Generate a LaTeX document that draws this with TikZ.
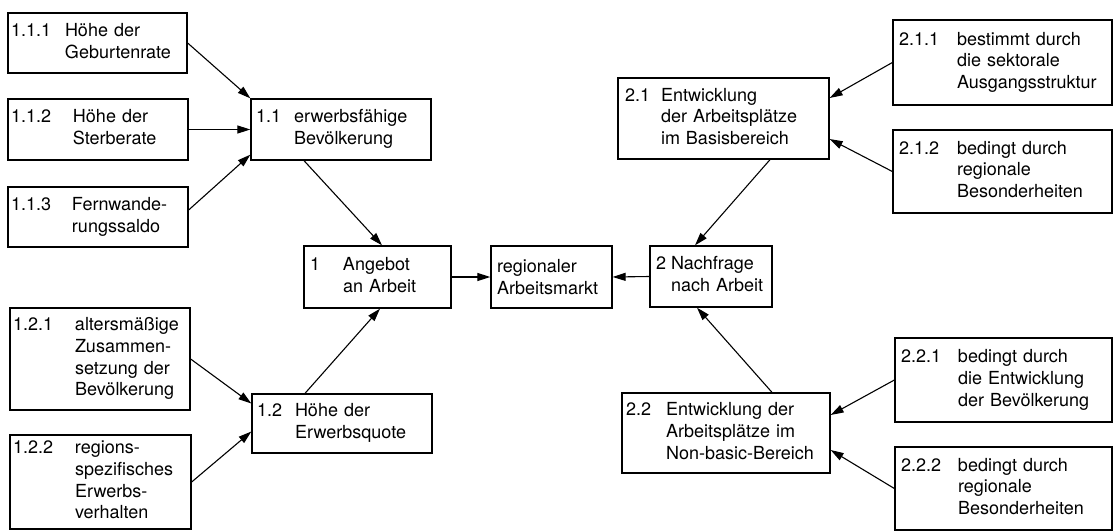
\documentclass[tikz,border=0pt]{standalone}
\usepackage{fontspec}
\setmainfont{TeX Gyre Heros}
\usetikzlibrary{arrows.meta}
\newcommand\lab[3]{\begin{tabular}{@{}p{#1}@{}l@{}}#2&#3\end{tabular}}
\newcommand\bx[7]{%
  \pgfmathsetmacro\bxtw{#4-2*#6}%
  \node[box, inner xsep=#6pt, text width=\bxtw pt, minimum height=#5pt] (#1) at (#2,#3) {#7};}
\begin{document}
\begin{tikzpicture}[x=1pt,y=-1pt,
  box/.style={draw, line width=1.3pt, inner ysep=0pt, align=left,
    font=\fontsize{18}{21.7}\selectfont},
  conn/.style={line width=1.1pt, -{Triangle[length=13pt,width=8pt]}}]
\useasboundingbox (0,0) rectangle (1114,531);
\bx{n111}{97.5}{43}{179}{60}{3}{\lab{54pt}{1.1.1}{Höhe der\\&Geburtenrate}}
\bx{n112}{98}{129.5}{180}{61}{3}{\lab{62pt}{1.1.2}{Höhe der\\&Sterberate}}
\bx{n113}{98}{217}{180}{60}{3}{\lab{61pt}{1.1.3}{Fernwande-\\&rungssaldo}}
\bx{n11}{341}{129.5}{180}{61}{5}{\lab{38pt}{1.1}{erwerbsfähige\\&Bevölkerung}}
\bx{n121}{100}{359}{180}{102}{3}{\lab{62pt}{1.2.1}{altersmäßige\\&Zusammen-\\&setzung der\\&Bevölkerung}}
\bx{n122}{100.5}{482}{181}{94}{3}{\lab{62pt}{1.2.2}{regions-\\&spezifisches\\&Erwerbs-\\&verhalten}}
\bx{n12}{342}{423.5}{180}{59}{5}{\lab{38pt}{1.2}{Höhe der\\&Erwerbsquote}}
\bx{n1}{377.5}{277}{147}{62}{6}{\lab{33pt}{1}{Angebot\\&an Arbeit}}
\bx{nm}{551.5}{277}{121}{62}{6}{regionaler\\Arbeitsmarkt}
\bx{n2}{711}{276.5}{122}{61}{6}{\lab{15pt}{2}{Nachfrage\\&nach Arbeit}}
\bx{n21}{723.5}{118.5}{211}{81}{7}{\lab{36pt}{2.1}{Entwicklung\\&der Arbeitsplätze\\&im Basisbereich}}
\bx{n211}{1002.5}{62.5}{219}{85}{6}{\lab{58pt}{2.1.1}{bestimmt durch\\&die sektorale\\&Ausgangsstruktur}}
\bx{n212}{1002.5}{171.5}{219}{83}{6}{\lab{58pt}{2.1.2}{bedingt durch\\&regionale\\&Besonderheiten}}
\bx{n22}{726}{433}{208}{80}{4}{\lab{40pt}{2.2}{Entwicklung der\\&Arbeitsplätze im\\&Non-basic-Bereich}}
\bx{n221}{1003.5}{380}{217}{84}{6}{\lab{57pt}{2.2.1}{bedingt durch\\&die Entwicklung\\&der Bevölkerung}}
\bx{n222}{1003.5}{488.5}{217}{83}{6}{\lab{57pt}{2.2.2}{bedingt durch\\&regionale\\&Besonderheiten}}
% connectors
\draw[conn] (n111.east) -- (n11.north west);
\draw[conn] (n112.east) -- (n11.west);
\draw[conn] ([yshift=7pt]n113.east) -- ([yshift=6pt]n11.south west);
\draw[conn] ([xshift=-37pt]n11.south) -- ([xshift=4.5pt]n1.north);
\draw[conn] ([xshift=-37pt]n12.north) -- ([xshift=2.5pt]n1.south);
\draw[conn] (n121.east) -- ([yshift=20pt]n12.west);
\draw[conn] (n122.east) -- ([yshift=-8pt]n12.west);
\draw[conn] (n1.east) -- (nm.west);
\draw[conn] (n2.west) -- (nm.east);
\draw[conn] ([xshift=46.5pt]n21.south) -- ([xshift=-16pt]n2.north);
\draw[conn] ([xshift=46pt]n22.north) -- ([xshift=-14pt]n2.south);
\draw[conn] (n211.west) -- ([yshift=20.5pt]n21.east);
\draw[conn] (n212.west) -- ([yshift=-20.5pt]n21.east);
\draw[conn] (n221.west) -- ([yshift=18pt]n22.east);
\draw[conn] (n222.west) -- ([yshift=-17pt]n22.east);
\end{tikzpicture}
\end{document}
